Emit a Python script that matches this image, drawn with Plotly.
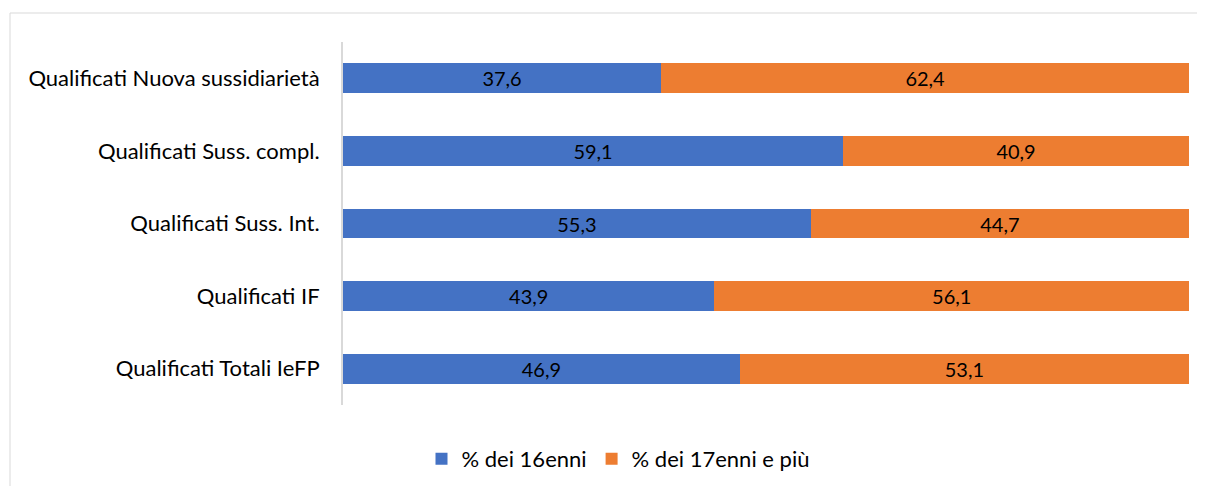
import plotly.graph_objects as go

categories = ["Qualificati Totali IeFP", "Qualificati IF", "Qualificati Suss. Int.",
              "Qualificati Suss. compl.", "Qualificati Nuova sussidiarietà"]
pct_16 = [46.9, 43.9, 55.3, 59.1, 37.6]
pct_17 = [53.1, 56.1, 44.7, 40.9, 62.4]
series_names = ["% dei 16enni", "% dei 17enni e più"]
colors = ["#4472C4", "#ED7D31"]

OFF = 8  # default page body margin
W, H = 1205 - OFF, 486 - OFF
L, R, T = 343 - OFF, 16, 42 - OFF
B = H - (405 - OFF)
pw, ph = W - L - R, H - T - B

def fmt(v):
    return f"{v:.1f}".replace(".", ",")

fig = go.Figure()
for name, vals, col in zip(series_names, [pct_16, pct_17], colors):
    fig.add_trace(go.Bar(
        y=categories, x=vals, name=name, orientation="h",
        marker=dict(color=col, line=dict(width=0)),
        text=[fmt(v) for v in vals], textposition="inside",
        insidetextanchor="middle",
        textfont=dict(color="black", size=21, family="Lato"),
    ))

fig.update_layout(
    barmode="stack", bargap=0.59,
    width=W, height=H,
    margin=dict(l=L, r=R, t=T, b=B, autoexpand=False),
    paper_bgcolor="white", plot_bgcolor="white",
    font=dict(family="Lato", size=22, color="black"),
    showlegend=True,
    legend=dict(orientation="h", x=(618 - OFF - L) / pw, xanchor="center",
                y=(H - B - (459 - OFF)) / ph, yanchor="middle",
                font=dict(size=22, family="Lato"), traceorder="normal",
                itemwidth=30),
    xaxis=dict(range=[0, 100], visible=False, fixedrange=True),
    yaxis=dict(showline=True, linecolor="#D9D9D9", linewidth=2,
               showgrid=False, ticks="", ticklabelstandoff=17,
               tickfont=dict(size=22, family="Lato")),
)

# outer chart border (light gray)
fig.add_shape(type="rect", xref="paper", yref="paper",
              x0=(10 - OFF - L) / pw, x1=(W + 20 - L) / pw,
              y0=(H - B - (H + 20)) / ph, y1=(H - B - (13 - OFF)) / ph,
              line=dict(color="#D9D9D9", width=1), fillcolor="rgba(0,0,0,0)",
              layer="below")

fig.write_html("out.html")
